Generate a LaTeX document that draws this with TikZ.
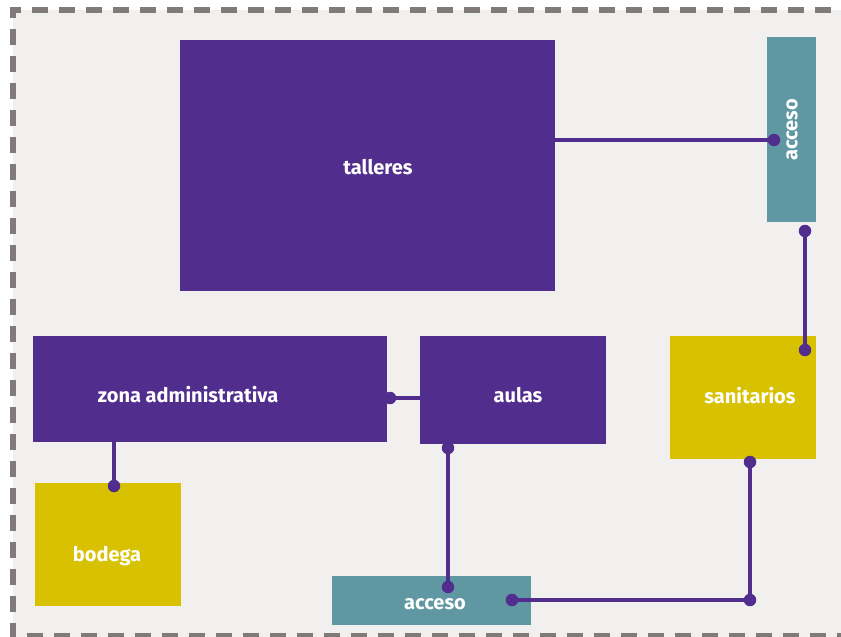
\documentclass[tikz,border=0pt]{standalone}
\usepackage{fontspec}
\usepackage{xcolor}
\usepackage{tikz}
\usetikzlibrary{calc,positioning}
\newfontfamily\lblfont{Fira Sans}
\definecolor{roomcol}{HTML}{512D8E}
\definecolor{accesscol}{HTML}{5F98A3}
\definecolor{servicecol}{HTML}{D8C100}
\definecolor{groundcol}{HTML}{F1F0EF}
\definecolor{edgecol}{HTML}{817A7A}
\tikzset{
  zone/.style={inner sep=0pt,outer sep=0pt},
  room/.style={zone,fill=roomcol},
  access/.style={zone,fill=accesscol},
  service/.style={zone,fill=servicecol},
  lbl/.style={text=white,font=\lblfont\bfseries\fontsize{20}{24}\selectfont,inner sep=0pt},
  link/.style={draw=roomcol,line width=4pt},
  dot/.style={circle,fill=roomcol,inner sep=0pt,minimum size=12.5pt},
  border line/.style={draw=edgecol,line width=6pt,dash pattern=on 16pt off 11pt,dash phase=17pt},
}
\begin{document}
\begin{tikzpicture}[x=1pt,y=-1pt]
  \useasboundingbox (0,0) rectangle (841,637);
  % ground and dashed edge
  \fill[groundcol] (13,10) rectangle (841,637);
  \path[border line] (841,10) -- (13,10) -- (13,636) -- (841,636);
  % zones
  \node[room,minimum width=375pt,minimum height=251pt] (talleres) at (367.5,165.5) {};
  \node[lbl] at (378,167) {talleres};
  \node[access,minimum width=49pt,minimum height=185pt] (accesoN) at (791.5,129.5) {};
  \node[lbl,rotate=90] at (792,130) {acceso};
  \node[room,minimum width=354pt,minimum height=106pt] (admin) at (210,389) {};
  \node[lbl] at (188,395) {zona administrativa};
  \node[room,minimum width=186pt,minimum height=108pt] (aulas) at (513,390) {};
  \node[lbl] at (518,395) {aulas};
  \node[service,minimum width=146pt,minimum height=123pt] (sanitarios) at (743,397.5) {};
  \node[lbl] at (750,396) {sanitarios};
  \node[service,minimum width=146pt,minimum height=123pt] (bodega) at (108,544.5) {};
  \node[lbl] at (107,556) {bodega};
  \node[access,minimum width=199pt,minimum height=49pt] (accesoS) at (431.5,600.5) {};
  \node[lbl] at (435,604) {acceso};
  % joints
  \node[dot] (d1) at (774,140) {};
  \node[dot] (d2) at (805,231) {};
  \node[dot] (d3) at (805,350) {};
  \node[dot] (d4) at (390,398) {};
  \node[dot] (d5) at (114,486) {};
  \node[dot] (d6) at (448,448) {};
  \node[dot] (d7) at (448,587) {};
  \node[dot] (d8) at (512,600) {};
  \node[dot] (d9) at (750,600) {};
  \node[dot] (d10) at (750,462) {};
  % links
  \draw[link] (talleres.east |- d1) -- (d1.center);
  \draw[link] (d2.center) -- (d3.center);
  \draw[link] (d4.center) -- (aulas.west |- d4);
  \draw[link] (admin.south -| d5) -- (d5.center);
  \draw[link] (d6.center) -- (d7.center);
  \draw[link] (d8.center) -- (d9.center) -- (d10.center);
\end{tikzpicture}
\end{document}
